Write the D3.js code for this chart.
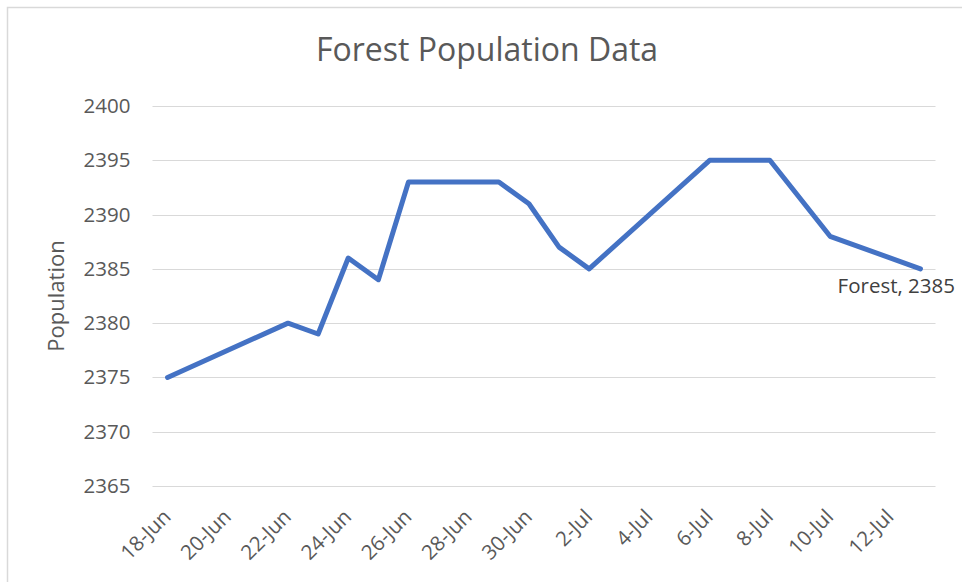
<!DOCTYPE html>
<html>
<head>
<meta charset="utf-8">
<script src="https://cdn.jsdelivr.net/npm/d3@7"></script>
<style>
  body { margin: 0; background: #fff; }
  svg { display: block; font-family: "Open Sans", sans-serif; }
</style>
</head>
<body>
<div id="vis"></div>
<script>
// data
const DATES = ["2021-06-18", "2021-06-22", "2021-06-23", "2021-06-24", "2021-06-25",
  "2021-06-26", "2021-06-29", "2021-06-30", "2021-07-01", "2021-07-02",
  "2021-07-06", "2021-07-08", "2021-07-10", "2021-07-13"];
const POPULATION = [2375, 2380, 2379, 2386, 2384, 2393, 2393, 2391, 2387, 2385,
  2395, 2395, 2388, 2385];
const Y_TICKS = [2365, 2370, 2375, 2380, 2385, 2390, 2395, 2400];
const X_TICKS = ["2021-06-18", "2021-06-20", "2021-06-22", "2021-06-24", "2021-06-26",
  "2021-06-28", "2021-06-30", "2021-07-02", "2021-07-04", "2021-07-06",
  "2021-07-08", "2021-07-10", "2021-07-12"];
const SERIES_NAME = "Forest";

const WIDTH = 962, HEIGHT = 582;
const PLOT = {left: 152.5, right: 935.5, top: 106, bottom: 486};
const TEXT_COLOR = "#595959";
const TICK_FONT = "20.5px";

const parse = d3.timeParse("%Y-%m-%d");
const data = DATES.map((d, i) => ({date: parse(d), value: POPULATION[i]}));

const svg = d3.select("#vis").append("svg")
  .attr("width", WIDTH)
  .attr("height", HEIGHT);

// chart frame (only top/left edges visible in the picture)
svg.append("rect")
  .attr("x", 7.5).attr("y", 7.5)
  .attr("width", WIDTH + 20).attr("height", HEIGHT + 20)
  .attr("fill", "none")
  .attr("stroke", "#d9d9d9")
  .attr("stroke-width", 1.5);

const half = 12 * 3600 * 1000;
const x = d3.scaleTime()
  .domain([new Date(parse("2021-06-18") - half), new Date(+parse("2021-07-13") + half)])
  .range([PLOT.left, PLOT.right]);

const y = d3.scaleLinear()
  .domain([2365, 2400])
  .range([PLOT.bottom, PLOT.top]);

// gridlines
svg.append("g")
  .selectAll("line")
  .data(Y_TICKS)
  .join("line")
  .attr("x1", PLOT.left).attr("x2", PLOT.right)
  .attr("y1", d => Math.round(y(d)) + 0.5)
  .attr("y2", d => Math.round(y(d)) + 0.5)
  .attr("stroke", "#d9d9d9")
  .attr("stroke-width", 1);

// y axis labels
const yAxis = d3.axisLeft(y).tickValues(Y_TICKS).tickSize(0).tickPadding(22)
  .tickFormat(d3.format("d"));
const yG = svg.append("g")
  .attr("transform", `translate(${PLOT.left},0)`)
  .call(yAxis);
yG.select(".domain").remove();
yG.attr("font-size", null).attr("font-family", null);
yG.selectAll("text")
  .attr("fill", TEXT_COLOR)
  .style("font-size", TICK_FONT);

// x axis labels
const fmt = d3.timeFormat("%-d-%b");
const xAxis = d3.axisBottom(x).tickValues(X_TICKS.map(parse)).tickSize(0).tickFormat(fmt);
const xG = svg.append("g")
  .attr("transform", `translate(0,${PLOT.bottom})`)
  .call(xAxis);
xG.select(".domain").remove();
xG.attr("font-size", null).attr("font-family", null);
xG.selectAll("text")
  .attr("fill", TEXT_COLOR)
  .style("font-size", TICK_FONT)
  .attr("text-anchor", "end")
  .attr("dy", 0)
  .attr("y", 0)
  .attr("transform", "translate(4,32) rotate(-45)");

// the line
const line = d3.line()
  .x(d => x(d.date))
  .y(d => y(d.value));

svg.append("path")
  .datum(data)
  .attr("d", line)
  .attr("fill", "none")
  .attr("stroke", "#4472C4")
  .attr("stroke-width", 5)
  .attr("stroke-linejoin", "round")
  .attr("stroke-linecap", "round");

// data label on last point
const last = data[data.length - 1];
svg.append("text")
  .attr("x", 955)
  .attr("y", y(last.value) + 24)
  .attr("text-anchor", "end")
  .attr("fill", "#404040")
  .style("font-size", TICK_FONT)
  .text(`${SERIES_NAME}, ${last.value}`);

// title
svg.append("text")
  .attr("x", 487)
  .attr("y", 61)
  .attr("text-anchor", "middle")
  .attr("fill", TEXT_COLOR)
  .style("font-size", "32px")
  .text("Forest Population Data");

// axis title
svg.append("text")
  .attr("transform", `translate(64,${(PLOT.top + PLOT.bottom) / 2}) rotate(-90)`)
  .attr("text-anchor", "middle")
  .attr("fill", TEXT_COLOR)
  .style("font-size", "22px")
  .text("Population");
</script>
</body>
</html>
